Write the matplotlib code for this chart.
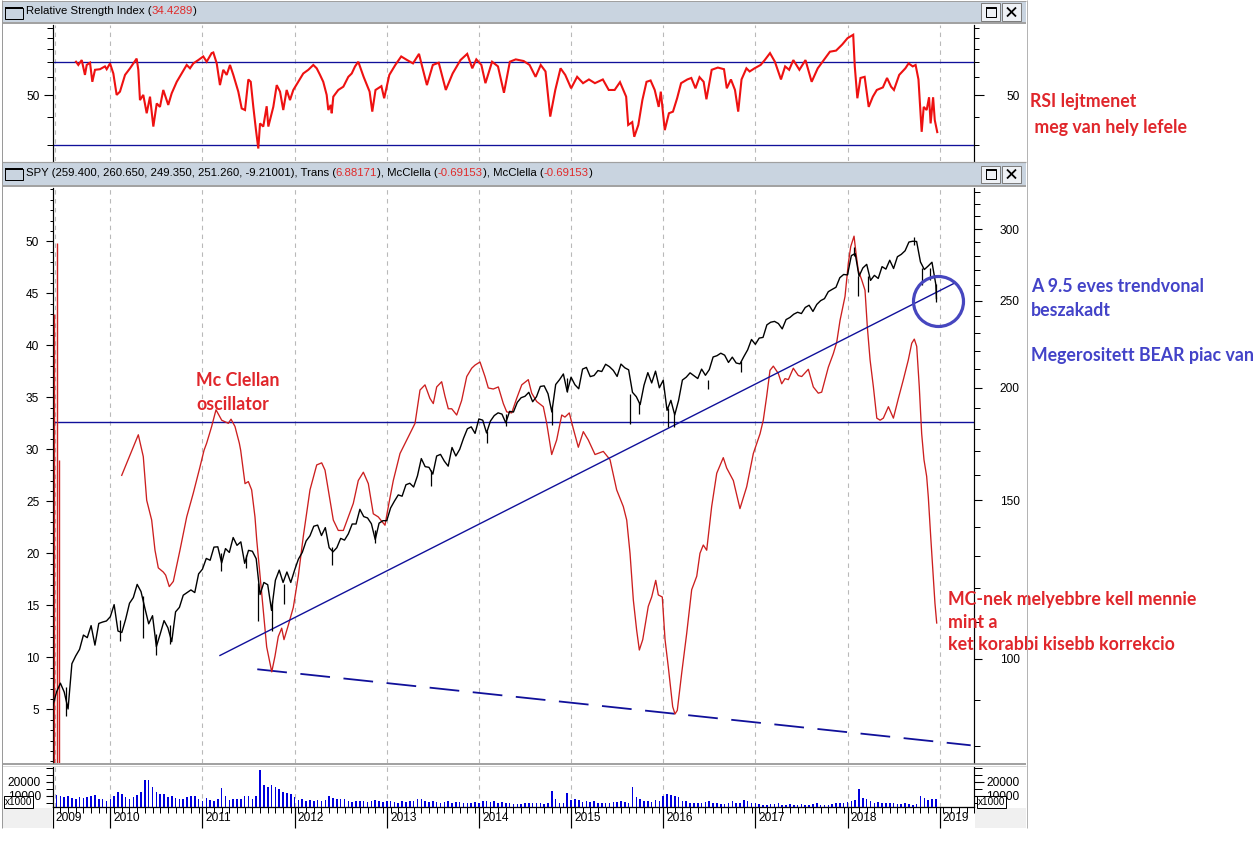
import numpy as np
import matplotlib
matplotlib.use("Agg")
import matplotlib.pyplot as plt
from matplotlib.patches import Rectangle
from matplotlib.lines import Line2D
from matplotlib.ticker import FixedLocator, FixedFormatter, NullFormatter

plt.rcParams["font.family"] = ["Liberation Sans", "DejaVu Sans"]

# ------------------------------------------------------------------ data
year_ticks = [2010, 2011, 2012, 2013, 2014, 2015, 2016, 2017, 2018, 2019]
year_labels = ["2009", "2010", "2011", "2012", "2013", "2014", "2015", "2016", "2017", "2018", "2019"]

# SPY closes, two per month (mid / end), May 2009 .. Dec 2018
spy_close = [
    88.7, 91.9, 94.0, 91.9, 88.0, 98.8, 100.8, 102.5, 106.3, 105.6, 108.9, 103.6, 109.5, 109.9, 110.2, 111.4,
    114.9, 107.4, 107.0, 110.7, 115.3, 117.0, 121.0, 118.8, 113.9, 109.4, 111.7, 103.2, 106.6, 110.3, 108.3, 104.5, 112.8, 114.1, 117.7, 118.5, 119.3, 118.5, 124.3, 125.8,
    129.3, 128.7, 133.1, 133.2, 127.8, 132.6, 131.3, 136.4, 133.7, 134.9, 127.7, 132.0, 131.7, 129.2, 117.9, 121.6, 120.9, 113.2, 122.3, 125.5, 121.6, 124.9, 121.6, 125.5,
    129.1, 131.3, 135.2, 137.0, 140.4, 140.8, 137.1, 139.9, 132.9, 131.5, 132.9, 136.1, 135.5, 137.7, 141.2, 141.2, 146.6, 143.9, 143.4, 141.3, 135.7, 141.5, 142.4, 142.4,
    147.1, 149.7, 152.1, 151.6, 156.1, 156.7, 155.2, 159.7, 166.9, 163.5, 163.2, 160.4, 168.0, 168.7, 165.8, 163.7, 171.7, 168.0, 170.9, 175.8, 180.1, 181.0, 178.0, 184.7,
    184.1, 178.2, 183.7, 186.3, 187.6, 187.0, 182.9, 188.3, 188.0, 192.7, 195.0, 195.7, 197.7, 193.0, 195.5, 200.7, 201.0, 197.0, 188.0, 201.7, 204.2, 207.2, 198.0, 205.5,
    201.6, 199.5, 209.8, 210.7, 205.8, 206.4, 209.0, 208.5, 212.4, 211.1, 209.1, 205.9, 212.5, 210.5, 209.4, 197.7, 195.5, 191.6, 201.3, 207.9, 202.5, 208.7, 200.0, 203.9,
    188.8, 193.7, 186.6, 193.6, 204.0, 205.5, 207.8, 206.3, 204.8, 209.8, 206.5, 209.5, 216.4, 217.1, 218.5, 217.4, 213.4, 216.3, 213.1, 212.6, 216.6, 220.4, 226.3, 223.5,
    227.1, 227.5, 234.9, 236.5, 237.0, 235.7, 232.5, 238.1, 239.4, 241.4, 242.6, 241.8, 245.6, 247.0, 243.1, 247.5, 249.9, 251.2, 255.7, 257.2, 258.6, 265.0, 267.2, 266.9,
    280.4, 281.9, 266.0, 271.7, 274.2, 263.2, 266.6, 264.5, 272.6, 270.9, 277.1, 271.3, 279.6, 281.3, 283.9, 290.3, 290.9, 290.7, 275.9, 270.6, 273.0, 275.7, 260.5, 251.26,
]

# notable weekly bar ranges (low / high spikes)
spy_wick_t = [2009.52, 2010.10, 2010.35, 2010.50, 2010.65, 2011.20, 2011.47, 2011.60, 2011.76, 2011.89,
              2012.41, 2012.87, 2013.48, 2014.09, 2014.29, 2014.79, 2014.96, 2015.64, 2015.74, 2016.05,
              2016.12, 2016.49, 2016.84, 2018.07, 2018.11, 2018.22, 2018.72, 2018.81, 2018.89, 2018.965]
spy_wick_lo = [86.5, 104.6, 105.5, 101.1, 104.0, 125.3, 126.2, 110.3, 107.4, 115.2,
               127.1, 134.4, 155.5, 173.7, 181.3, 181.9, 197.9, 182.4, 187.0, 181.0,
               181.1, 199.5, 208.4, 280.0, 252.9, 255.8, 288.0, 259.9, 263.2, 249.35]
spy_wick_hi = [93.0, 110.5, 117.5, 106.5, 109.0, 131.0, 130.5, 121.5, 116.0, 121.0,
               133.0, 139.0, 162.0, 179.0, 187.0, 190.0, 205.0, 197.0, 193.0, 190.0,
               187.0, 204.0, 214.0, 286.6, 266.0, 266.0, 293.9, 272.0, 272.0, 260.65]

# volume (x1000), two per month
volume = [
    11500, 10500, 9500, 9000, 9800, 8500, 8000, 9000, 8200, 8800, 9500, 10500, 8000, 7500, 6500, 8000,
    9500, 12500, 11000, 9000, 8000, 9000, 10500, 12500, 21000, 21000, 16000, 13000, 11500, 11000, 9000, 10000, 8500, 8000, 7500, 9000, 10000, 9500, 8000, 6000,
    8500, 7000, 6500, 8000, 15500, 10000, 7000, 8000, 7500, 8000, 9500, 10000, 8000, 10000, 28500, 18000, 16500, 17500, 16000, 15000, 13000, 12000, 11000, 9000,
    7000, 7500, 6500, 7000, 6500, 7000, 6500, 7000, 9500, 8500, 7500, 8000, 7500, 6000, 5500, 6000, 6000, 6500, 5500, 6000, 7000, 6500, 5500, 6500,
    6000, 5500, 5000, 6000, 5500, 6500, 6000, 7500, 8000, 6000, 5500, 6000, 5500, 5000, 5500, 6000, 5000, 5500, 5500, 5000, 4500, 5000, 5500, 4500,
    6000, 6500, 5500, 6000, 5000, 5500, 4500, 4500, 4000, 4000, 4000, 4500, 4500, 5000, 5000, 4500, 4000, 4500, 13500, 7500, 5000, 5000, 12000, 7000,
    8000, 7000, 5500, 6000, 5500, 6000, 5000, 5000, 4500, 5000, 5500, 5500, 6000, 5500, 5000, 16500, 9000, 8000, 6500, 6000, 5500, 7000, 6500, 9500,
    11500, 10500, 9500, 9000, 6500, 6000, 5000, 5000, 5000, 5000, 5500, 6000, 4500, 4500, 4000, 4000, 5000, 6500, 5000, 4500, 7000, 6500, 5000, 5000,
    4000, 3500, 3500, 4000, 4000, 4500, 3500, 3500, 4000, 3500, 3500, 4000, 3500, 3500, 4000, 4500, 3500, 3500, 3500, 4000, 4500, 5000, 4500, 5500,
    6500, 7000, 14500, 8500, 7500, 6500, 5000, 5500, 4500, 5000, 4500, 5000, 4000, 4000, 4500, 4000, 3500, 4000, 9500, 8500, 7000, 8000, 7500, 6500,
]

# McClellan oscillator (left scale)
mc_t = [2010.124, 2010.304, 2010.358, 2010.395, 2010.449, 2010.485, 2010.521, 2010.575, 2010.601, 2010.640,
        2010.684, 2010.756, 2010.829, 2010.901, 2010.973, 2011.017, 2011.046, 2011.100, 2011.147, 2011.209,
        2011.281, 2011.310, 2011.353, 2011.400, 2011.415, 2011.462, 2011.498, 2011.534, 2011.570, 2011.589,
        2011.660, 2011.697, 2011.752, 2011.787, 2011.823, 2011.860, 2011.885, 2011.932, 2011.986, 2012.040,
        2012.094, 2012.167, 2012.240, 2012.294, 2012.330, 2012.366, 2012.420, 2012.474, 2012.529, 2012.583,
        2012.637, 2012.691, 2012.746, 2012.800, 2012.854, 2012.908, 2012.981, 2013.017, 2013.071, 2013.144,
        2013.217, 2013.307, 2013.361, 2013.415, 2013.469, 2013.505, 2013.542, 2013.596, 2013.632, 2013.668,
        2013.705, 2013.759, 2013.813, 2013.868, 2013.922, 2013.958, 2014.012, 2014.066, 2014.102, 2014.156,
        2014.211, 2014.265, 2014.302, 2014.356, 2014.410, 2014.465, 2014.536, 2014.573, 2014.627, 2014.699,
        2014.736, 2014.790, 2014.844, 2014.899, 2014.934, 2014.981, 2015.024, 2015.079, 2015.133, 2015.187,
        2015.260, 2015.350, 2015.423, 2015.495, 2015.567, 2015.604, 2015.640, 2015.676, 2015.712, 2015.741,
        2015.778, 2015.838, 2015.875, 2015.919, 2015.947, 2015.990, 2016.020, 2016.055, 2016.103, 2016.128,
        2016.153, 2016.201, 2016.255, 2016.309, 2016.364, 2016.399, 2016.435, 2016.472, 2016.526, 2016.581,
        2016.652, 2016.689, 2016.761, 2016.833, 2016.906, 2016.978, 2017.051, 2017.086, 2017.123, 2017.159,
        2017.195, 2017.249, 2017.286, 2017.322, 2017.358, 2017.412, 2017.466, 2017.503, 2017.575, 2017.629,
        2017.683, 2017.720, 2017.792, 2017.846, 2017.883, 2017.919, 2017.973, 2018.009, 2018.035, 2018.071,
        2018.093, 2018.117, 2018.154, 2018.190, 2018.215, 2018.245, 2018.281, 2018.318, 2018.354, 2018.389,
        2018.444, 2018.498, 2018.552, 2018.606, 2018.660, 2018.697, 2018.725, 2018.751, 2018.779, 2018.805,
        2018.830, 2018.859, 2018.877, 2018.903, 2018.931, 2018.949, 2018.968]
mc_v = [27.5, 31.4, 29.3, 25.1, 23.2, 20.3, 18.6, 18.2, 17.9, 16.8,
        17.3, 20.3, 23.5, 25.8, 28.3, 29.9, 30.6, 32.2, 33.8, 32.8,
        32.5, 32.9, 32.2, 30.6, 29.9, 26.7, 26.9, 26.1, 23.5, 21.3,
        14.5, 11.0, 8.6, 10.1, 12.0, 12.8, 11.7, 13.1, 14.8, 17.8,
        21.6, 26.1, 28.5, 28.7, 28.0, 26.1, 23.2, 22.2, 22.2, 23.5,
        24.8, 27.0, 27.8, 26.7, 23.8, 23.5, 22.7, 24.5, 27.0, 29.6,
        30.9, 32.5, 35.7, 36.2, 34.9, 34.4, 36.0, 36.5, 35.1, 33.9,
        33.9, 33.3, 34.7, 37.0, 37.8, 38.1, 38.4, 37.0, 35.9, 35.8,
        36.0, 34.4, 33.6, 33.5, 34.9, 36.2, 36.7, 35.4, 34.6, 34.1,
        32.5, 29.5, 30.9, 33.3, 33.1, 33.5, 32.0, 30.2, 31.7, 30.9,
        29.5, 29.8, 29.0, 26.1, 24.5, 23.2, 20.0, 15.5, 12.6, 10.7,
        11.7, 14.9, 15.8, 17.4, 16.0, 15.8, 11.7, 9.1, 5.25, 4.55,
        4.9, 8.5, 12.3, 16.5, 17.8, 20.0, 20.8, 20.3, 24.5, 27.7,
        29.2, 28.2, 27.0, 24.3, 26.4, 29.6, 31.5, 32.8, 35.1, 37.6,
        38.0, 37.3, 36.3, 36.8, 36.7, 37.8, 37.1, 37.0, 37.7, 36.0,
        35.4, 35.5, 37.9, 39.2, 40.3, 42.4, 44.7, 47.9, 49.5, 50.5,
        48.8, 47.2, 46.3, 45.3, 41.8, 38.6, 36.0, 33.0, 32.8, 33.0,
        34.1, 33.0, 34.9, 36.7, 38.6, 40.2, 40.6, 39.9, 36.0, 31.5,
        29.0, 27.4, 25.4, 21.6, 17.8, 15.2, 13.3]
mc_spike_t = [2009.392, 2009.418, 2009.443]
mc_spike_top = [43.0, 49.8, 29.0]

# RSI
rsi_t = [2009.628, 2009.653, 2009.690, 2009.725, 2009.744, 2009.780, 2009.805, 2009.834, 2009.888, 2009.942,
         2009.961, 2009.997, 2010.033, 2010.069, 2010.105, 2010.160, 2010.214, 2010.250, 2010.286, 2010.304,
         2010.322, 2010.358, 2010.395, 2010.431, 2010.467, 2010.504, 2010.539, 2010.575, 2010.629, 2010.666,
         2010.721, 2010.775, 2010.829, 2010.865, 2010.901, 2010.955, 2011.009, 2011.046, 2011.100, 2011.118,
         2011.155, 2011.190, 2011.226, 2011.263, 2011.299, 2011.335, 2011.389, 2011.426, 2011.462, 2011.498,
         2011.524, 2011.552, 2011.581, 2011.606, 2011.625, 2011.660, 2011.697, 2011.715, 2011.769, 2011.806,
         2011.842, 2011.877, 2011.914, 2011.950, 2011.986, 2012.040, 2012.094, 2012.149, 2012.203, 2012.240,
         2012.276, 2012.311, 2012.348, 2012.366, 2012.392, 2012.403, 2012.420, 2012.474, 2012.529, 2012.583,
         2012.620, 2012.656, 2012.691, 2012.749, 2012.814, 2012.843, 2012.878, 2012.942, 2012.972, 2013.028,
         2013.093, 2013.157, 2013.221, 2013.285, 2013.350, 2013.384, 2013.436, 2013.500, 2013.564, 2013.641,
         2013.715, 2013.800, 2013.873, 2013.928, 2013.972, 2014.027, 2014.071, 2014.143, 2014.207, 2014.272,
         2014.336, 2014.400, 2014.486, 2014.550, 2014.615, 2014.671, 2014.723, 2014.774, 2014.829, 2014.886,
         2014.937, 2015.001, 2015.066, 2015.130, 2015.194, 2015.259, 2015.345, 2015.409, 2015.473, 2015.531,
         2015.598, 2015.620, 2015.664, 2015.686, 2015.730, 2015.774, 2015.819, 2015.863, 2015.908, 2015.951,
         2015.974, 2016.017, 2016.062, 2016.106, 2016.151, 2016.194, 2016.262, 2016.305, 2016.350, 2016.394,
         2016.439, 2016.469, 2016.526, 2016.593, 2016.660, 2016.690, 2016.735, 2016.779, 2016.814, 2016.850,
         2016.903, 2016.938, 2016.991, 2017.057, 2017.102, 2017.159, 2017.212, 2017.278, 2017.323, 2017.367,
         2017.412, 2017.478, 2017.544, 2017.611, 2017.677, 2017.743, 2017.809, 2017.876, 2017.943, 2018.000,
         2018.062, 2018.079, 2018.107, 2018.141, 2018.186, 2018.230, 2018.275, 2018.318, 2018.384, 2018.429,
         2018.473, 2018.504, 2018.561, 2018.628, 2018.663, 2018.708, 2018.739, 2018.770, 2018.805, 2018.827,
         2018.859, 2018.885, 2018.902, 2018.929, 2018.947, 2018.974]
rsi_v = [70.5, 68.2, 71.7, 61.6, 68.2, 69.8, 57.4, 64.9, 65.3, 67.2,
         65.3, 69.3, 62.5, 50.2, 51.9, 61.6, 65.9, 69.3, 72.8, 64.9,
         47.6, 50.2, 41.6, 49.3, 36.3, 46.0, 44.4, 52.8, 45.3, 51.0,
         57.4, 62.5, 68.2, 65.9, 69.3, 71.7, 74.4, 70.5, 77.0, 77.5,
         69.3, 55.5, 64.9, 61.6, 68.2, 61.6, 51.9, 43.7, 43.0, 58.8,
         57.4, 44.4, 35.0, 29.0, 37.5, 36.3, 44.7, 36.3, 44.4, 55.5,
         51.9, 43.0, 52.8, 47.6, 52.8, 57.4, 62.5, 64.9, 68.2, 65.9,
         61.6, 57.4, 50.2, 43.0, 45.3, 41.6, 49.3, 52.8, 54.6, 60.4,
         62.5, 67.2, 70.5, 60.4, 51.9, 42.3, 52.8, 54.9, 48.5, 61.6,
         68.2, 74.4, 71.7, 69.3, 76.4, 67.2, 55.5, 68.2, 69.8, 52.8,
         62.5, 71.7, 76.4, 65.9, 72.2, 68.2, 56.6, 70.5, 67.2, 51.3,
         70.5, 72.2, 71.0, 68.2, 60.4, 68.2, 63.8, 40.2, 52.8, 65.9,
         61.6, 53.7, 60.4, 56.6, 58.8, 56.6, 58.8, 52.8, 52.8, 57.2,
         49.3, 36.9, 38.0, 32.7, 36.9, 47.6, 57.4, 58.2, 52.8, 44.4,
         51.9, 35.0, 41.6, 42.3, 48.5, 56.6, 58.8, 59.7, 53.7, 60.2,
         57.4, 48.0, 64.9, 66.4, 65.3, 53.7, 58.8, 52.8, 42.3, 58.8,
         65.9, 63.8, 65.9, 68.2, 71.7, 77.0, 70.5, 58.8, 67.2, 64.9,
         71.7, 64.9, 71.7, 57.4, 65.9, 71.7, 78.1, 79.0, 84.1, 89.7,
         92.9, 67.2, 48.5, 59.7, 60.4, 44.4, 49.3, 52.8, 54.2, 59.7,
         54.6, 52.8, 61.6, 65.9, 69.3, 67.2, 68.2, 58.8, 34.4, 44.4,
         43.0, 49.0, 37.5, 49.0, 38.8, 34.3]
rsi_levels = [70, 30]

# drawn lines
trend_t = [2011.190, 2019.150]
trend_v = [100.9, 261.0]
support_level = 32.6
dash_t = [2011.595, 2019.337]
dash_v = [8.85, 1.54]
circle_t, circle_v = 2018.986, 250.0

# ------------------------------------------------------------------ figure
W, H, DPI = 1257, 850, 100
PT = 72.0 / DPI
fig = plt.figure(figsize=(W / DPI, H / DPI), dpi=DPI)
fig.patch.set_facecolor("white")


def fx(x):
    return x / W


def fy(y):
    return 1.0 - y / H


def rect(x0, y0, x1, y1):
    return [x0 / W, 1.0 - y1 / H, (x1 - x0) / W, (y1 - y0) / H]


def fig_line(xs, ys, color, lw_px=1.0, z=6):
    fig.add_artist(Line2D([fx(x) for x in xs], [fy(y) for y in ys], transform=fig.transFigure,
                          color=color, lw=lw_px * PT, zorder=z, solid_capstyle="butt"))


def fig_box(x0, y0, x1, y1, fc, ec="none", lw_px=1.0, z=5):
    fig.add_artist(Rectangle((fx(x0), fy(y1)), (x1 - x0) / W, (y1 - y0) / H, transform=fig.transFigure,
                             facecolor=fc, edgecolor=ec, lw=lw_px * PT, zorder=z))


NAVY = "#10109a"
RED_LINE = "#cc1f1f"
RSI_RED = "#ee1111"
HDR_RED = "#e02a2a"
GRID = "#b9b9b9"
HDR = "#c9d4e0"
TXT_RED = "#e0262b"
TXT_BLUE = "#4343c8"

# window chrome
fig_box(2, 1, 1026, 22, HDR)
fig_line([2, 1026], [0.5, 0.5], "#a0a0a0", 1.0)
fig_line([2, 1026], [22.8, 22.8], "#8c8c8c", 1.6)
fig_box(2, 162.5, 1026, 184.5, HDR)
fig_line([2, 1026], [161.5, 161.5], "#a0a0a0", 1.2)
fig_line([2, 1026], [185.5, 185.5], "#8c8c8c", 1.6)
fig_line([2, 1026], [764.2, 764.2], "#8c8c8c", 1.6)
fig_line([2, 1026], [766.3, 766.3], "#d8d8d8", 1.0)
fig_line([1.5, 1.5], [0, 828], "#9a9a9a", 1.0)
fig_line([1026.5, 1026.5], [0, 828], "#b4b4b4", 1.0)
fig_box(2, 807.5, 52.7, 828, "#f0f0f0", z=1)
fig_box(974.8, 807.5, 1026, 828, "#f0f0f0", z=1)


def window_icon(x0, y0):
    fig_box(x0, y0, x0 + 18, y0 + 11, "none", "black", 1.0, z=7)
    fig_line([x0, x0 + 18], [y0 + 0.8, y0 + 0.8], "black", 2.0, z=7)


def buttons(yc):
    fig_box(981, yc - 8.5, 1000, yc + 8.5, "#eef1f5", "#7d7d7d", 1.0, z=7)
    fig_box(985.5, yc - 5, 995.5, yc + 4.5, "none", "black", 1.0, z=8)
    fig_line([985.5, 995.5], [yc - 4.3, yc - 4.3], "black", 2.0, z=8)
    fig_box(1002, yc - 8.5, 1021, yc + 8.5, "#eef1f5", "#7d7d7d", 1.0, z=7)
    fig_line([1007, 1016], [yc - 4.5, yc + 4.5], "black", 1.8, z=8)
    fig_line([1007, 1016], [yc + 4.5, yc - 4.5], "black", 1.8, z=8)


window_icon(5, 7.5)
window_icon(5, 168.5)
buttons(12)
buttons(174)

renderer = fig.canvas.get_renderer()


def header(x, y, parts):
    cur = x
    for s, c in parts:
        t = fig.text(fx(cur), fy(y), s, color=c, va="center", ha="left", zorder=9,
                     family="Liberation Sans", fontsize=8.2)
        cur += t.get_window_extent(renderer=renderer).width


header(25.5, 11.5, [("Relative Strength Index (", "black"), ("34.4289", HDR_RED), (")", "black")])
header(25.5, 173.5, [("SPY (259.400, 260.650, 249.350, 251.260, -9.21001), Trans (", "black"),
                     ("6.88171", HDR_RED), ("), McClella (", "black"), ("-0.69153", HDR_RED),
                     ("), McClella (", "black"), ("-0.69153", HDR_RED), (")", "black")])

XL, XR = 52.7, 974.3
XMIN, XMAX = 2009.375, 2019.376
grid_x = [2009.40] + year_ticks


def base_style(ax, side):
    ax.set_xlim(XMIN, XMAX)
    for name, sp in ax.spines.items():
        sp.set_visible(name == side)
        sp.set_color("black")
        sp.set_linewidth(1.2 * PT)
    ax.tick_params(axis="x", which="both", bottom=False, top=False, labelbottom=False)
    ax.patch.set_visible(False)


def set_y_ticks(ax, major, labels, minor):
    ax.yaxis.set_major_locator(FixedLocator(major))
    ax.yaxis.set_major_formatter(FixedFormatter(labels))
    ax.yaxis.set_minor_locator(FixedLocator(minor))
    ax.yaxis.set_minor_formatter(NullFormatter())


def y_params(ax, side, maj_len, min_len, pad):
    kw = dict(left=(side == "left"), right=(side == "right"),
              labelleft=(side == "left"), labelright=(side == "right"))
    ax.tick_params(axis="y", which="major", length=maj_len * PT, width=1.1 * PT, pad=pad * PT,
                   labelsize=8.6, direction="out", **kw)
    ax.tick_params(axis="y", which="minor", length=min_len * PT, width=1.0 * PT, direction="out",
                   left=(side == "left"), right=(side == "right"))


def grid(ax):
    for g in grid_x:
        ax.axvline(g, color=GRID, lw=0.8, ls=(0, (4, 4)), zorder=0.5)


# ---------------- RSI panel
ax_rsi = fig.add_axes(rect(XL, 25, XR, 160.7))
ax_rsi_r = ax_rsi.twinx()
for a, side in ((ax_rsi, "left"), (ax_rsi_r, "right")):
    a.set_yscale("log")
    a.set_ylim(25.60, 102.66)
    base_style(a, side)
    set_y_ticks(a, [50], ["50"], [30, 40, 60, 70, 80, 90, 100])
y_params(ax_rsi, "left", 9, 6, 4)
y_params(ax_rsi_r, "right", 10, 4.5, 22.5)
grid(ax_rsi)
for lv in rsi_levels:
    ax_rsi.axhline(lv, color=NAVY, lw=0.95, zorder=2)
ax_rsi.plot(rsi_t, rsi_v, color=RSI_RED, lw=1.5, zorder=3, solid_joinstyle="miter")

# ---------------- main panel
ax_main = fig.add_axes(rect(XL, 188, XR, 763))
ax_main.set_ylim(-0.163, 55.13)
ax_price = ax_main.twinx()
ax_price.set_yscale("log")
ax_price.set_ylim(76.65, 333.3)
base_style(ax_main, "left")
base_style(ax_price, "right")
set_y_ticks(ax_main, list(range(5, 55, 5)), [str(v) for v in range(5, 55, 5)],
            [v for v in range(0, 56) if v % 5 != 0 or v in (0, 55)])
set_y_ticks(ax_price, [100, 150, 200, 250, 300], ["100", "150", "200", "250", "300"],
            [80, 90, 110, 120, 130, 140, 160, 170, 180, 190, 210, 220, 230, 240, 260, 270, 280, 290, 310, 320, 330])
y_params(ax_main, "left", 7, 3.3, 6.5)
y_params(ax_price, "right", 8, 6, 17.5)
grid(ax_main)

ax_main.axhline(support_level, color=NAVY, lw=1.0, zorder=2)
ax_main.plot(dash_t, dash_v, color=NAVY, lw=1.3, dashes=(16.5, 7.5), zorder=2)
ax_main.plot(mc_t, mc_v, color=RED_LINE, lw=0.95, zorder=3)
ax_main.vlines(mc_spike_t, -1, mc_spike_top, color=RED_LINE, lw=1.0, zorder=3)

spy_t = 2009.375 + np.arange(len(spy_close)) / 24.0
spy_t[-1] = 2018.965
ax_price.plot(spy_t, spy_close, color="black", lw=1.0, zorder=3)
ax_price.vlines(spy_wick_t, spy_wick_lo, spy_wick_hi, color="black", lw=0.9, zorder=3)
ax_price.plot(trend_t, trend_v, color=NAVY, lw=1.0, zorder=2)
ax_price.plot([circle_t], [circle_v], marker="o", ms=36, mfc="none", mec="#4646bf", mew=2.3, zorder=4)

# ---------------- volume panel
ax_vol = fig.add_axes(rect(XL, 767, XR, 806.7))
ax_vol_r = ax_vol.twinx()
for a, side in ((ax_vol, "left"), (ax_vol_r, "right")):
    a.set_ylim(2143, 30500)
    base_style(a, side)
    set_y_ticks(a, [10000, 20000], ["10000", "20000"], [5000, 15000, 25000, 30000])
y_params(ax_vol, "left", 7, 7, 5)
y_params(ax_vol_r, "right", 10, 8, 2)
ax_vol.spines["bottom"].set_visible(True)
ax_vol.spines["bottom"].set_linewidth(1.3 * PT)
grid(ax_vol)
ax_vol.bar(spy_t[:len(volume)], volume, width=0.017, color="#0000dd", zorder=3)

month_ticks = [XMIN + (k + 1) / 12.0 for k in range(120)]
month_ticks = [m for m in month_ticks if m < XMAX and min(abs(m - y) for y in year_ticks) > 0.01]
ax_vol.set_xticks([XMIN] + year_ticks)
ax_vol.set_xticks(month_ticks, minor=True)
ax_vol.tick_params(axis="x", which="major", bottom=True, length=21 * PT, width=1.2 * PT,
                   direction="out", labelbottom=False)
ax_vol.tick_params(axis="x", which="minor", bottom=True, length=6 * PT, width=1.0 * PT, direction="out")
for pos, lab in zip([XMIN] + year_ticks, year_labels):
    ax_vol.annotate(lab, xy=(pos, 0), xycoords=("data", "axes fraction"), xytext=(2.3, -8.2),
                    textcoords="offset points", ha="left", va="center", fontsize=8.6,
                    family="Liberation Sans", annotation_clip=False)

for bx in (4, 977):
    fig_box(bx, 796, bx + 28.5, 808, "white", "black", 1.0, z=10)
    fig.text(fx(bx + 14.25), fy(802), "x1000", ha="center", va="center", fontsize=7.2,
             family="Liberation Sans", zorder=11)

# ---------------- annotations
AFONT = dict(family="Lato", weight="bold", fontsize=12.8, va="center", ha="left")
fig.text(fx(1030), fy(101), "RSI lejtmenet", color=TXT_RED, **AFONT)
fig.text(fx(1030), fy(127), " meg van hely lefele", color=TXT_RED, **AFONT)
fig.text(fx(1031), fy(287), "A 9.5 eves trendvonal", color=TXT_BLUE, **AFONT)
fig.text(fx(1031), fy(310), "beszakadt", color=TXT_BLUE, **AFONT)
fig.text(fx(1031), fy(355), "Megerositett BEAR piac van", color=TXT_BLUE, **AFONT)
fig.text(fx(196), fy(381), "Mc Clellan", color=TXT_RED, **AFONT)
fig.text(fx(196), fy(404), "oscillator", color=TXT_RED, **AFONT)
fig.text(fx(948), fy(600), "MC-nek melyebbre kell mennie", color=TXT_RED, **AFONT)
fig.text(fx(948), fy(622), "mint a", color=TXT_RED, **AFONT)
fig.text(fx(948), fy(645), "ket korabbi kisebb korrekcio", color=TXT_RED, **AFONT)

fig.savefig("out.png", dpi=DPI)
